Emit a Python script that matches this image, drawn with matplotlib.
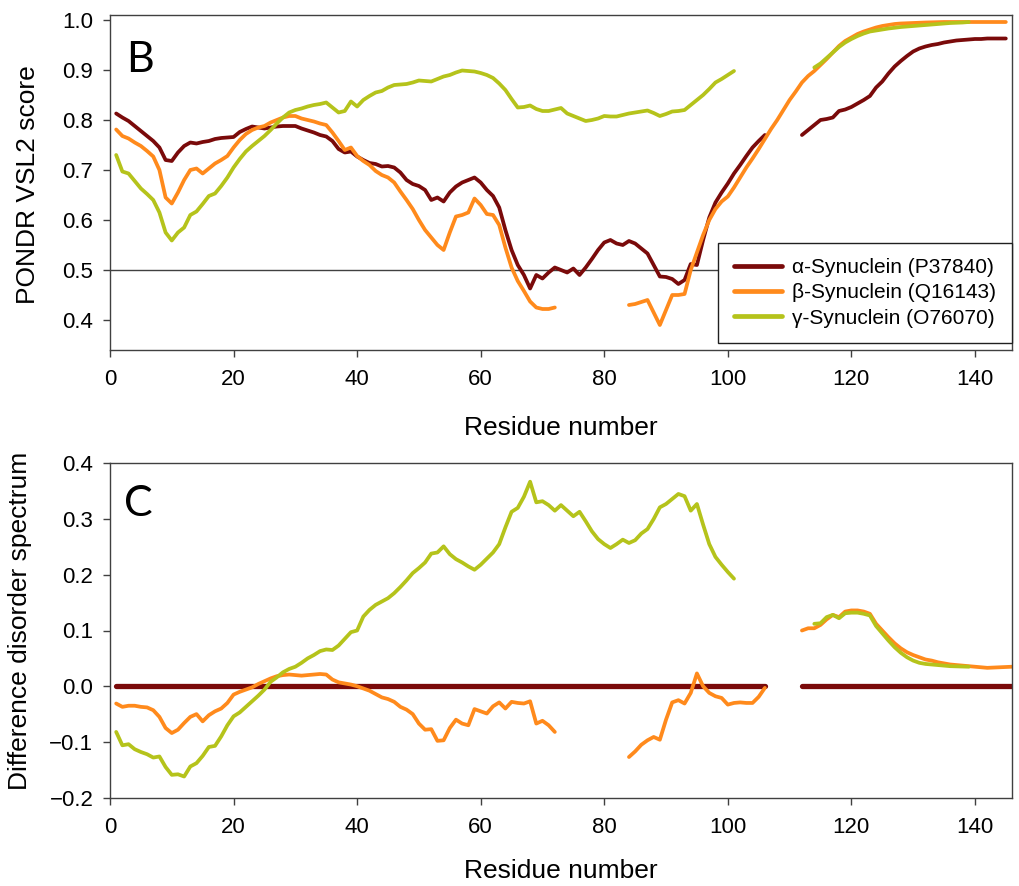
import matplotlib
matplotlib.use("Agg")
import matplotlib.pyplot as plt
import numpy as np

plt.rcParams['font.family'] = ['Liberation Sans', 'DejaVu Sans']

# ---------------- Panel B data (PONDR VSL2 score) ----------------
alpha_x1 = list(range(1, 107))
alpha_y1 = [0.813, 0.805, 0.798, 0.788, 0.778, 0.768, 0.758, 0.745, 0.720, 0.718,
            0.735, 0.748, 0.755, 0.753, 0.756, 0.758, 0.762, 0.764, 0.765, 0.766,
            0.776, 0.782, 0.787, 0.785, 0.783, 0.785, 0.787, 0.788, 0.788, 0.788,
            0.783, 0.779, 0.775, 0.770, 0.767, 0.758, 0.742, 0.735, 0.737, 0.727,
            0.720, 0.714, 0.712, 0.707, 0.708, 0.705, 0.695, 0.680, 0.672, 0.668,
            0.660, 0.640, 0.645, 0.637, 0.655, 0.667, 0.675, 0.680, 0.685, 0.675,
            0.660, 0.648, 0.625, 0.580, 0.540, 0.510, 0.490, 0.463, 0.490, 0.483,
            0.495, 0.505, 0.500, 0.495, 0.503, 0.490, 0.505, 0.522, 0.540, 0.555,
            0.560, 0.553, 0.550, 0.558, 0.553, 0.543, 0.533, 0.510, 0.487, 0.486,
            0.482, 0.472, 0.480, 0.512, 0.510, 0.560, 0.605, 0.635, 0.655, 0.673,
            0.693, 0.710, 0.728, 0.745, 0.758, 0.770]
alpha_x2 = list(range(112, 146))
alpha_y2 = [0.770, 0.780, 0.790, 0.800, 0.802, 0.805, 0.818, 0.821, 0.826, 0.833,
            0.840, 0.848, 0.865, 0.877, 0.893, 0.907, 0.918, 0.928, 0.937, 0.943,
            0.947, 0.950, 0.952, 0.955, 0.957, 0.959, 0.960, 0.961, 0.962, 0.962,
            0.963, 0.963, 0.963, 0.963]

beta_x1 = list(range(1, 73))
beta_y1 = [0.781, 0.768, 0.763, 0.755, 0.748, 0.738, 0.727, 0.700, 0.645, 0.633,
           0.655, 0.680, 0.700, 0.703, 0.693, 0.703, 0.713, 0.720, 0.728, 0.745,
           0.760, 0.772, 0.780, 0.785, 0.788, 0.795, 0.800, 0.805, 0.808, 0.808,
           0.803, 0.800, 0.797, 0.793, 0.790, 0.775, 0.758, 0.740, 0.745, 0.728,
           0.718, 0.710, 0.698, 0.690, 0.685, 0.675, 0.657, 0.640, 0.622, 0.600,
           0.580, 0.565, 0.550, 0.540, 0.575, 0.607, 0.610, 0.615, 0.643, 0.630,
           0.612, 0.610, 0.590, 0.545, 0.505, 0.478, 0.458, 0.437, 0.425, 0.422,
           0.422, 0.425]
beta_x2 = [84, 85, 86, 87, 88, 89, 90, 91, 92, 93, 94, 95, 96, 97, 98, 99, 100,
           101, 102, 103, 104, 105, 106, 107, 108, 109, 110, 111, 112, 113, 114,
           115, 116, 117, 118, 119, 120, 121, 122, 123, 124, 125, 126, 127, 128,
           130, 132, 135, 140, 145]
beta_y2 = [0.430, 0.432, 0.436, 0.440, 0.415, 0.390, 0.420, 0.450, 0.450, 0.452,
           0.500, 0.535, 0.570, 0.600, 0.622, 0.637, 0.647, 0.665, 0.685, 0.705,
           0.723, 0.742, 0.762, 0.782, 0.800, 0.820, 0.840, 0.857, 0.875, 0.888,
           0.898, 0.910, 0.922, 0.935, 0.948, 0.958, 0.965, 0.972, 0.977, 0.981,
           0.985, 0.988, 0.990, 0.992, 0.993, 0.994, 0.995, 0.996, 0.996, 0.996]

gamma_x1 = list(range(1, 102))
gamma_y1 = [0.730, 0.697, 0.693, 0.678, 0.663, 0.652, 0.640, 0.615, 0.575, 0.559,
            0.575, 0.585, 0.610, 0.617, 0.632, 0.648, 0.653, 0.668, 0.685, 0.705,
            0.722, 0.737, 0.748, 0.758, 0.768, 0.780, 0.793, 0.805, 0.815, 0.820,
            0.823, 0.827, 0.830, 0.832, 0.835, 0.825, 0.815, 0.818, 0.837, 0.827,
            0.840, 0.848, 0.855, 0.858, 0.865, 0.870, 0.871, 0.872, 0.875, 0.879,
            0.878, 0.877, 0.882, 0.887, 0.890, 0.895, 0.899, 0.898, 0.897, 0.894,
            0.890, 0.884, 0.873, 0.860, 0.842, 0.825, 0.826, 0.829, 0.822, 0.818,
            0.818, 0.821, 0.824, 0.813, 0.808, 0.803, 0.798, 0.800, 0.803, 0.808,
            0.807, 0.807, 0.810, 0.813, 0.815, 0.817, 0.819, 0.814, 0.808, 0.812,
            0.817, 0.818, 0.820, 0.830, 0.840, 0.850, 0.862, 0.875, 0.882, 0.890,
            0.898]
gamma_x2 = [114, 115, 116, 117, 118, 119, 120, 121, 122, 123, 124, 125, 126, 128,
            130, 132, 134, 136, 138, 139]
gamma_y2 = [0.905, 0.913, 0.924, 0.935, 0.946, 0.955, 0.962, 0.968, 0.973, 0.977,
            0.979, 0.981, 0.983, 0.986, 0.988, 0.990, 0.992, 0.994, 0.995, 0.996]

# ---------------- Panel C data (difference disorder spectrum) ----------------
dalpha_x1 = [1, 106]
dalpha_y1 = [0.0, 0.0]
dalpha_x2 = [112, 146]
dalpha_y2 = [0.0, 0.0]

dbeta_x1 = list(range(1, 73))
dbeta_y1 = [-0.031, -0.037, -0.035, -0.035, -0.037, -0.038, -0.043, -0.055, -0.075, -0.084,
            -0.078, -0.066, -0.055, -0.050, -0.063, -0.052, -0.045, -0.040, -0.030, -0.015,
            -0.010, -0.006, -0.002, 0.004, 0.009, 0.014, 0.018, 0.020, 0.021, 0.020,
            0.019, 0.020, 0.021, 0.022, 0.021, 0.012, 0.007, 0.005, 0.003, 0.000,
            -0.004, -0.008, -0.014, -0.020, -0.023, -0.028, -0.037, -0.042, -0.050, -0.067,
            -0.078, -0.077, -0.098, -0.097, -0.075, -0.060, -0.067, -0.070, -0.041, -0.045,
            -0.049, -0.036, -0.029, -0.040, -0.028, -0.030, -0.031, -0.027, -0.067, -0.062,
            -0.070, -0.082]
dbeta_x2 = list(range(84, 107))
dbeta_y2 = [-0.127, -0.117, -0.105, -0.097, -0.091, -0.096, -0.060, -0.029, -0.025, -0.031,
            -0.012, 0.023, 0.000, -0.012, -0.018, -0.021, -0.033, -0.030, -0.029, -0.030,
            -0.030, -0.019, -0.003]
dbeta_x3 = [112, 113, 114, 115, 116, 117, 118, 119, 120, 121, 122, 123, 124, 125, 126,
            127, 128, 129, 130, 131, 132, 133, 134, 135, 136, 138, 140, 142, 144, 146]
dbeta_y3 = [0.100, 0.104, 0.104, 0.110, 0.120, 0.128, 0.124, 0.134, 0.136, 0.136,
            0.134, 0.130, 0.112, 0.100, 0.088, 0.077, 0.068, 0.061, 0.056, 0.052,
            0.048, 0.046, 0.043, 0.041, 0.039, 0.037, 0.035, 0.033, 0.034, 0.035]

dgamma_x1 = list(range(1, 102))
dgamma_y1 = [-0.082, -0.106, -0.104, -0.113, -0.118, -0.122, -0.128, -0.126, -0.145, -0.159,
             -0.158, -0.162, -0.144, -0.138, -0.125, -0.109, -0.107, -0.090, -0.070, -0.054,
             -0.047, -0.037, -0.027, -0.017, -0.006, 0.008, 0.016, 0.025, 0.031, 0.035,
             0.042, 0.050, 0.056, 0.063, 0.066, 0.065, 0.073, 0.085, 0.097, 0.100,
             0.125, 0.137, 0.146, 0.152, 0.158, 0.167, 0.178, 0.190, 0.203, 0.212,
             0.222, 0.238, 0.240, 0.251, 0.237, 0.228, 0.222, 0.215, 0.209, 0.218,
             0.229, 0.240, 0.255, 0.285, 0.313, 0.320, 0.340, 0.367, 0.330, 0.332,
             0.325, 0.315, 0.325, 0.315, 0.305, 0.313, 0.296, 0.278, 0.264, 0.255,
             0.248, 0.255, 0.263, 0.257, 0.262, 0.274, 0.282, 0.300, 0.321, 0.327,
             0.336, 0.345, 0.341, 0.315, 0.327, 0.290, 0.255, 0.232, 0.218, 0.205,
             0.193]
dgamma_x2 = [114, 115, 116, 117, 118, 119, 120, 121, 122, 123, 124, 125, 126, 127,
             128, 129, 130, 131, 132, 134, 136, 139]
dgamma_y2 = [0.112, 0.113, 0.124, 0.128, 0.122, 0.131, 0.132, 0.132, 0.130, 0.127,
             0.108, 0.095, 0.082, 0.070, 0.060, 0.052, 0.046, 0.042, 0.040, 0.038,
             0.036, 0.035]

labels = ['\u03b1-Synuclein (P37840)', '\u03b2-Synuclein (Q16143)', '\u03b3-Synuclein (O76070)']
colors = ['#7A0A0A', '#FF8A1C', '#B5C31B']
xticks = [0, 20, 40, 60, 80, 100, 120, 140]
yticks_b = [0.4, 0.5, 0.6, 0.7, 0.8, 0.9, 1.0]
yticks_c = [-0.2, -0.1, 0.0, 0.1, 0.2, 0.3, 0.4]

W, H = 1019, 886
fig = plt.figure(figsize=(W / 100, H / 100), dpi=100)

def frac_axes(l, t, r, b):
    return fig.add_axes([l / W, 1 - b / H, (r - l) / W, (b - t) / H])

axB = frac_axes(110, 15, 1012, 350)
axC = frac_axes(110, 463.3, 1012, 797.7)

spine_col = '#404040'
lw = 2.7

for ax in (axB, axC):
    for s in ax.spines.values():
        s.set_color(spine_col)
        s.set_linewidth(1.0)
    ax.tick_params(direction='out', length=5, width=1.0, color=spine_col,
                   labelsize=16, pad=7)
    ax.tick_params(axis='x', pad=9)
    ax.set_xlim(0, 146)
    ax.set_xticks(xticks)

# Panel B
axB.axhline(0.5, color=spine_col, lw=1.0, zorder=1)
lA, = axB.plot(alpha_x1, alpha_y1, color=colors[0], lw=lw, solid_capstyle='round', label=labels[0])
axB.plot(alpha_x2, alpha_y2, color=colors[0], lw=lw, solid_capstyle='round')
lB, = axB.plot(beta_x1, beta_y1, color=colors[1], lw=lw, solid_capstyle='round', label=labels[1])
axB.plot(beta_x2, beta_y2, color=colors[1], lw=lw, solid_capstyle='round')
lG, = axB.plot(gamma_x1, gamma_y1, color=colors[2], lw=lw, solid_capstyle='round', label=labels[2])
axB.plot(gamma_x2, gamma_y2, color=colors[2], lw=lw, solid_capstyle='round')
axB.set_ylim(0.34, 1.01)
axB.set_yticks(yticks_b)
axB.set_yticklabels([f'{v:.1f}' for v in yticks_b])
axB.set_ylabel('PONDR VSL2 score', fontsize=19, va='center')
axB.yaxis.set_label_coords(-0.091, 0.495)
axB.set_xlabel('Residue number', fontsize=19, va='baseline')
axB.xaxis.set_label_coords(0.5, -0.254)
axB.text(0.018, 0.83, 'B', transform=axB.transAxes, fontsize=31,
         family=['Lato', 'DejaVu Sans'], va='baseline', ha='left')

leg = axB.legend(handles=[lA, lB, lG], loc='lower right', bbox_to_anchor=(1.0, 0.02),
                 borderaxespad=0, fontsize=15, frameon=True, fancybox=False,
                 edgecolor='#202020', framealpha=1, handlelength=2.3,
                 handletextpad=0.5, labelspacing=0.3, borderpad=0.75)
leg.get_frame().set_linewidth(1.0)
for h in leg.get_lines():
    h.set_linewidth(3.4)

# Panel C
axC.plot(dalpha_x1, dalpha_y1, color=colors[0], lw=3.8, solid_capstyle='round')
axC.plot(dalpha_x2, dalpha_y2, color=colors[0], lw=3.8, solid_capstyle='round')
axC.plot(dbeta_x1, dbeta_y1, color=colors[1], lw=lw, solid_capstyle='round')
axC.plot(dbeta_x2, dbeta_y2, color=colors[1], lw=lw, solid_capstyle='round')
axC.plot(dbeta_x3, dbeta_y3, color=colors[1], lw=lw, solid_capstyle='round')
axC.plot(dgamma_x1, dgamma_y1, color=colors[2], lw=lw, solid_capstyle='round')
axC.plot(dgamma_x2, dgamma_y2, color=colors[2], lw=lw, solid_capstyle='round')
axC.set_ylim(-0.2, 0.4)
axC.set_yticks(yticks_c)
axC.set_yticklabels([f'{v:.1f}'.replace('-', '\u2212') for v in yticks_c])
axC.set_ylabel('Difference disorder spectrum', fontsize=19, va='center')
axC.yaxis.set_label_coords(-0.0998, 0.53)
axC.set_xlabel('Residue number', fontsize=19, va='baseline')
axC.xaxis.set_label_coords(0.5, -0.240)
axC.text(0.015, 0.842, 'C', transform=axC.transAxes, fontsize=31,
         family=['Lato', 'DejaVu Sans'], va='baseline', ha='left')

fig.savefig('out.png', dpi=100)
